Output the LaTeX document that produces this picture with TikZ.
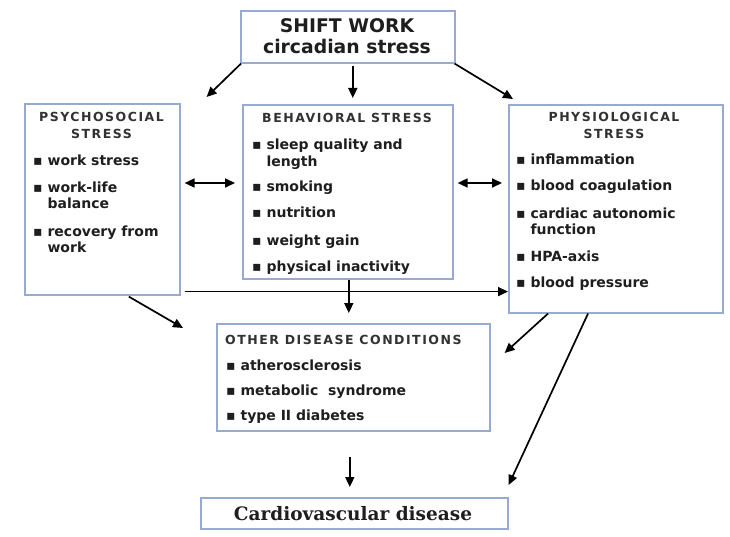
\documentclass[tikz,border=0pt]{standalone}
\usepackage{fontspec}
\setmainfont{DejaVu Sans}
\newfontfamily\headfont[LetterSpace=12]{DejaVu Sans}
\newfontfamily\cvdfont{DejaVu Serif}
\usetikzlibrary{arrows.meta,calc}
\definecolor{bxline}{RGB}{150,170,210}
\definecolor{txt}{RGB}{30,30,30}
\definecolor{hdtxt}{RGB}{50,50,50}
\newcommand{\bl}{▪\ }
\newcommand{\blsp}{\hphantom{▪\ }}
\tikzset{
  box/.style={draw=bxline, line width=1.6pt, inner sep=0pt, anchor=north west, fill=white},
  bul/.style={font=\fontsize{14}{16.5}\selectfont\bfseries, text=txt, anchor=base west, align=left, inner sep=0pt},
  head/.style={font=\headfont\fontsize{12.5}{17}\selectfont\bfseries, text=hdtxt, anchor=base, align=center, inner sep=0pt},
  arr/.style={line width=1.7pt, -{Triangle[length=10pt,width=9pt]}},
  darr/.style={line width=1.7pt, {Triangle[length=10pt,width=9pt]}-{Triangle[length=10pt,width=9pt]}}
}
\begin{document}
\begin{tikzpicture}[x=1pt,y=-1pt]
\useasboundingbox (0,0) rectangle (730,537);
% boxes
\node[box, minimum width=214pt, minimum height=52pt] (shift) at (240,10) {};
\node[box, minimum width=155pt, minimum height=191pt] (psy) at (24,103) {};
\node[box, minimum width=210pt, minimum height=174pt] (beh) at (242,104) {};
\node[box, minimum width=214pt, minimum height=208pt] (phy) at (508,104) {};
\node[box, minimum width=273pt, minimum height=107pt] (oth) at (216,323) {};
\node[box, minimum width=307pt, minimum height=31pt] (cvd) at (200,497) {};
% title texts
\node[font=\fontsize{18.8}{21}\selectfont\bfseries, text=txt, anchor=base, inner sep=0pt] (t1) at (347,33) {SHIFT WORK};
\node[font=\fontsize{18.8}{21}\selectfont\bfseries, text=txt, anchor=base, inner sep=0pt] (t2) at (347,54) {circadian stress};
\node[font=\cvdfont\fontsize{18.5}{21}\selectfont\bfseries, text=txt, anchor=base, inner sep=0pt] (t3) at (353,520) {Cardiovascular disease};
% psychosocial (base anchor = baseline of last line)
\node[head] (hp) at (101.5,139) {PSYCHOSOCIAL\\STRESS};
\node[bul] (p1) at (33,166) {\bl work stress};
\node[bul] (p2) at (33,208.5) {\bl work-life\\\blsp balance};
\node[bul] (p3) at (33,252.5) {\bl recovery from\\\blsp work};
% behavioral
\node[head] (hb) at (347,123) {BEHAVIORAL STRESS};
\node[bul] (b1) at (252,166.5) {\bl sleep quality and\\\blsp length};
\node[bul] (b2) at (252,192) {\bl smoking};
\node[bul] (b3) at (252,218) {\bl nutrition};
\node[bul] (b4) at (252,245) {\bl weight gain};
\node[bul] (b5) at (252,271) {\bl physical inactivity};
% physiological
\node[head] (hy) at (614,139) {PHYSIOLOGICAL\\STRESS};
\node[bul] (y1) at (516,165) {\bl inflammation};
\node[bul] (y2) at (516,191) {\bl blood coagulation};
\node[bul] (y3) at (516,234.5) {\bl cardiac autonomic\\\blsp function};
\node[bul] (y4) at (516,261) {\bl HPA-axis};
\node[bul] (y5) at (516,287) {\bl blood pressure};
% other
\node[head, anchor=base west] (ho) at (225,344) {OTHER DISEASE CONDITIONS};
\node[bul] (o1) at (226,370) {\bl atherosclerosis};
\node[bul] (o2) at (226,395) {\bl metabolic\ \ syndrome};
\node[bul] (o3) at (226,420) {\bl type II diabetes};
% connectors
\draw[arr] ($(shift.south west)+(1,0)$) -- ($(psy.north east)+(26,-6)$);
\draw[arr] ($(shift.south)+(5,2)$) -- ($(beh.north)+(5,-6)$);
\draw[arr] ($(shift.south east)+(-1,0)$) -- ($(phy.north west)+(5,-5)$);
\draw[darr] ($(psy.north east)+(4,80)$) -- ($(beh.north west)+(-7,79)$);
\draw[darr] ($(beh.north east)+(4,79)$) -- ($(phy.north west)+(-6,79)$);
\coordinate (h0) at ($(psy.south east)+(4,-4)$);
\draw[arr] (h0) -- (h0 -| phy.west);
\draw[arr] ($(beh.south)+(1,0)$) -- ($(oth.north)+(-4.5,-10)$);
\draw[arr] ($(psy.south)+(26.5,1)$) -- ($(oth.north west)+(-33,5)$);
\draw[arr] ($(phy.south west)+(40,0)$) -- ($(oth.north east)+(14,30)$);
\draw[arr] ($(phy.south west)+(80,0)$) -- ($(cvd.north east)+(0,-12)$);
\draw[arr] ($(oth.south)+(-3.5,25)$) -- ($(cvd.north)+(-4.5,-10)$);
\end{tikzpicture}
\end{document}
